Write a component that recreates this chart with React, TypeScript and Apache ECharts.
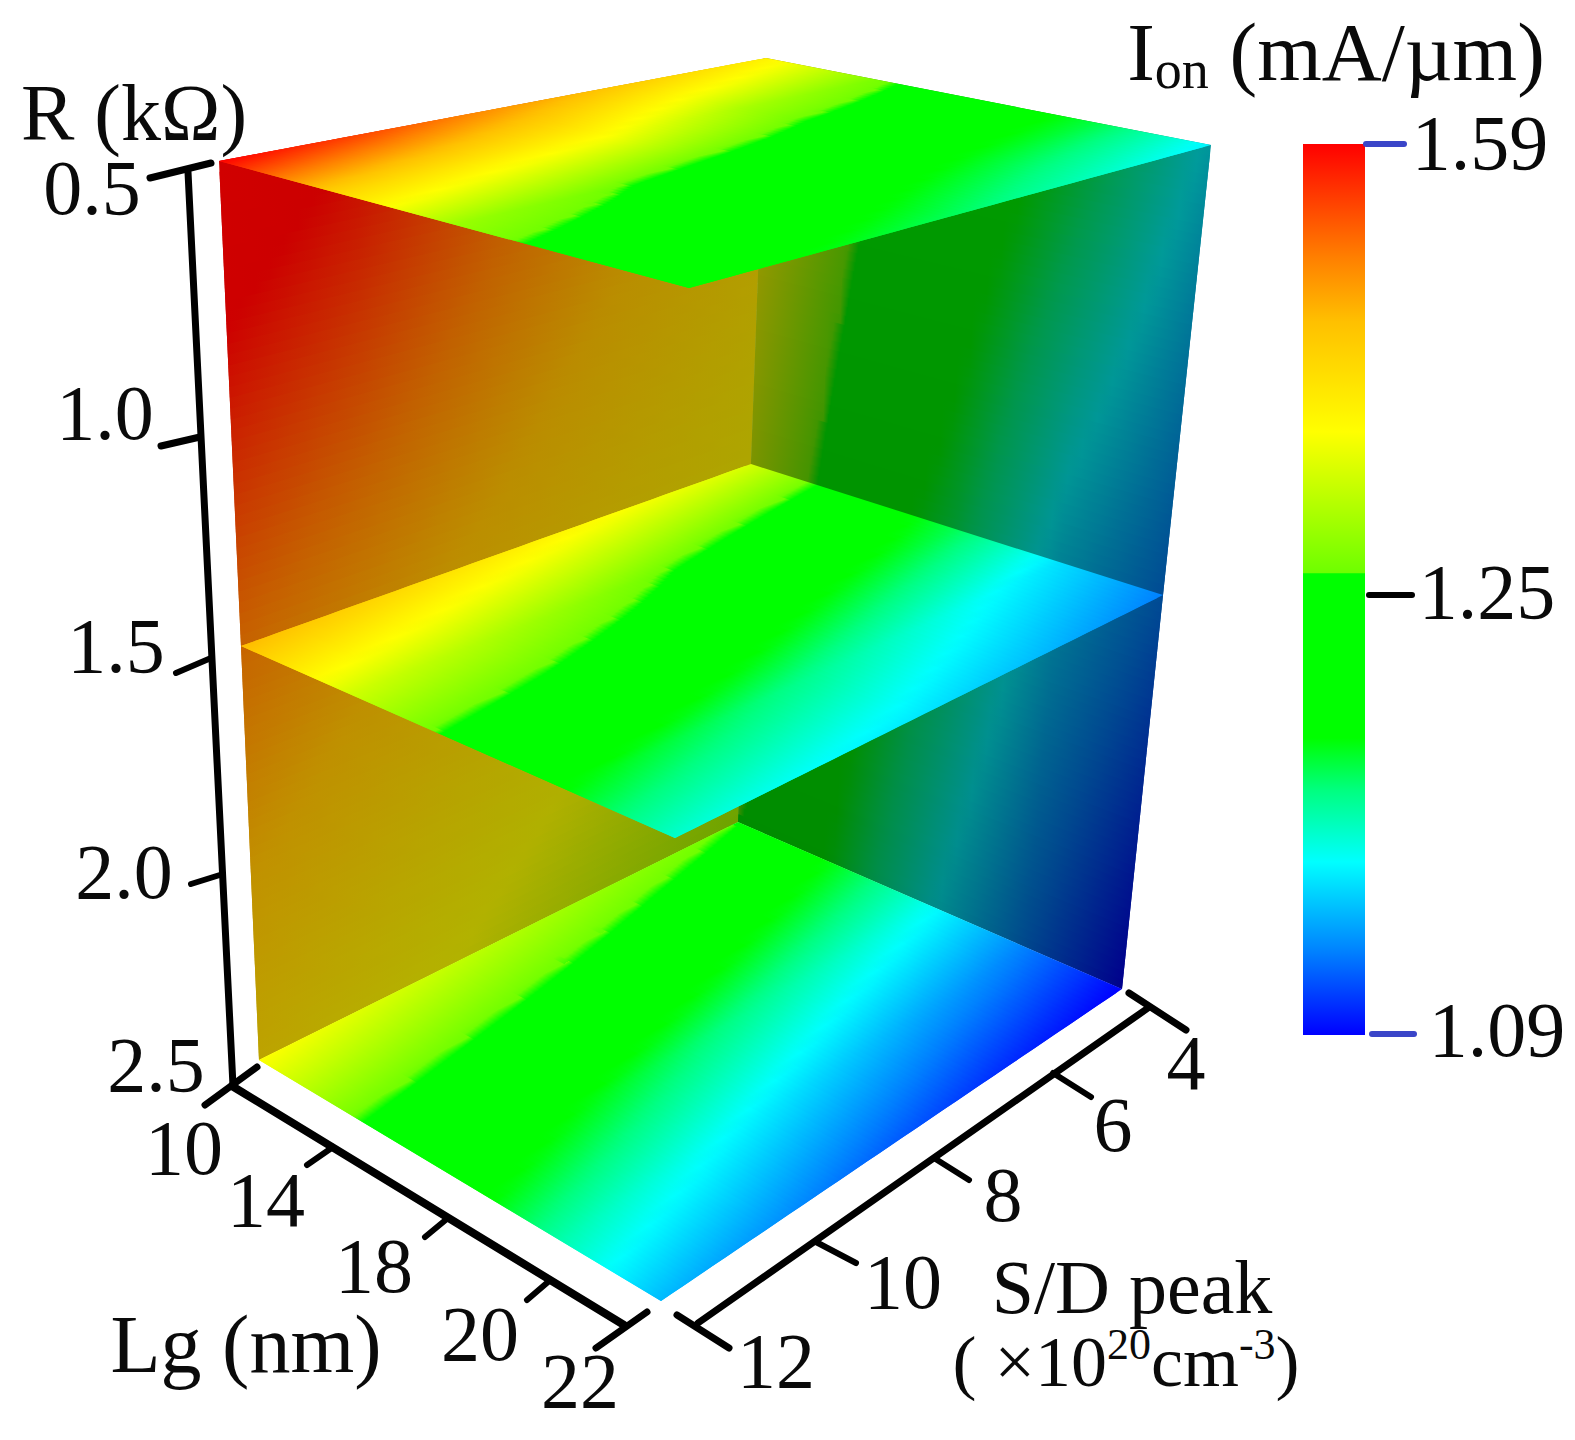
import React, { useEffect, useRef } from "react";
import * as echarts from "echarts";

// ---------- data ----------
const lgTicks = ["10", "14", "18", "20", "22"];
const sdTicks = ["4", "6", "8", "10", "12"];
const rTicks = ["0.5", "1.0", "1.5", "2.0", "2.5"];
const colorbarTicks = [1.59, 1.25, 1.09];

// Ion (mA/um) rows: Lg 10,14,18,20,22; columns: S/D peak 4,6,8,10,12
const ionAtR05 = [
  [1.39, 1.44, 1.49, 1.545, 1.59],
  [1.275, 1.31, 1.373, 1.40, 1.43],
  [1.215, 1.225, 1.245, 1.275, 1.30],
  [1.187, 1.197, 1.21, 1.225, 1.24],
  [1.15, 1.168, 1.185, 1.197, 1.205],
];
const ionAtR15 = [
  [1.343, 1.37, 1.40, 1.43, 1.46],
  [1.215, 1.25, 1.285, 1.316, 1.339],
  [1.185, 1.20, 1.217, 1.234, 1.247],
  [1.145, 1.16, 1.175, 1.187, 1.198],
  [1.12, 1.135, 1.147, 1.155, 1.163],
];
const ionAtR25 = [
  [1.265, 1.29, 1.318, 1.345, 1.373],
  [1.195, 1.212, 1.23, 1.247, 1.265],
  [1.155, 1.168, 1.182, 1.197, 1.212],
  [1.12, 1.132, 1.145, 1.158, 1.17],
  [1.09, 1.10, 1.112, 1.125, 1.135],
];
const ionLayers = [ionAtR05, ionAtR15, ionAtR25];

// colour scale: Ion value -> rgb
const scaleIon = [1.59, 1.504, 1.456, 1.373, 1.267, 1.266, 1.198, 1.179, 1.153, 1.12, 1.09];
const scaleRgb = [
  [255, 0, 0],
  [255, 128, 0],
  [255, 192, 0],
  [255, 255, 0],
  [110, 255, 0],
  [0, 255, 0],
  [0, 255, 0],
  [0, 255, 128],
  [0, 255, 255],
  [0, 128, 255],
  [0, 0, 255],
];

// ---------- layout ----------
const W = 1575;
const H = 1440;
const FONT = '"Liberation Serif", "Times New Roman", serif';
// screen corners of the three slices: B(Lg10,SD4) R(Lg22,SD4) L(Lg10,SD12) F(Lg22,SD12)
const cornerLayers = [
  { B: [766, 58], R: [1211, 145], L: [219, 161], F: [689, 288] },
  { B: [751, 464], R: [1163, 595], L: [241, 646], F: [675, 838] },
  { B: [738, 822], R: [1122, 989], L: [259, 1060], F: [661, 1301] },
];
const barBox = { x0: 1303, x1: 1365, yTop: 144, yMid: 595, yBot: 1035 };
const STRIPS = 90;
const SAMPLES = 36;
const JUMP_SOFTNESS = 0.012;

const lerp = (a: number, b: number, t: number) => a + (b - a) * t;

function ionColor(v: number): number[] {
  if (v >= scaleIon[0]) return scaleRgb[0];
  for (let i = 1; i < scaleIon.length; i++) {
    if (v >= scaleIon[i]) {
      const t = (scaleIon[i - 1] - v) / (scaleIon[i - 1] - scaleIon[i]);
      return [0, 1, 2].map((k) => lerp(scaleRgb[i - 1][k], scaleRgb[i][k], t));
    }
  }
  return scaleRgb[scaleRgb.length - 1];
}
const css = (c: number[], s = 1) => `rgb(${c.map((x) => Math.round(x * s)).join(",")})`;

function tableAt(t: number[][], lg: number, sd: number) {
  const i = Math.min(Math.floor(lg), 3);
  const j = Math.min(Math.floor(sd), 3);
  const a = lerp(t[i][j], t[i + 1][j], lg - i);
  const b = lerp(t[i][j + 1], t[i + 1][j + 1], lg - i);
  return lerp(a, b, sd - j);
}
function ionAt(lg: number, sd: number, rho: number) {
  const k = Math.min(Math.floor(rho), 1);
  return lerp(tableAt(ionLayers[k], lg, sd), tableAt(ionLayers[k + 1], lg, sd), rho - k);
}
function layerPoint(c: any, lg: number, sd: number) {
  const u = lg / 4;
  const w = sd / 4;
  return [0, 1].map(
    (k) =>
      (1 - u) * (1 - w) * c.B[k] + u * (1 - w) * c.R[k] + (1 - u) * w * c.L[k] + u * w * c.F[k]
  );
}
function project(lg: number, sd: number, rho: number) {
  const k = Math.min(Math.floor(rho), 1);
  const a = layerPoint(cornerLayers[k], lg, sd);
  const b = layerPoint(cornerLayers[k + 1], lg, sd);
  return [lerp(a[0], b[0], rho - k), lerp(a[1], b[1], rho - k)];
}

// faces: t runs along a strip, v across the strips; each returns [lg, sd, rho]
const faces = [
  {
    off: 0.045,
    shade: (t: number, v: number) => 0.82 - 0.08 * v - 0.1 * t,
    at: (t: number, v: number) => [0, 4 - 4 * t, 2 * v],
  },
  {
    off: 0,
    shade: (_t: number, v: number) => 0.61 - 0.06 * v,
    at: (t: number, v: number) => [4 * t, 0, 2 * v],
  },
  { off: 0, shade: () => 1, at: (t: number, v: number) => [4 * t, 4 * v, 2] },
  { off: 0, shade: () => 1, at: (t: number, v: number) => [4 * t, 4 * v, 1] },
  { off: 0, shade: () => 1, at: (t: number, v: number) => [4 * t, 4 * v, 0] },
];
const stripData: number[][] = [];
faces.forEach((_, f) => {
  for (let i = 0; i < STRIPS; i++) stripData.push([f, i]);
});

function stripStops(face: any, vm: number) {
  const stops: any[] = [];
  const val = (t: number) => {
    const p = face.at(t, vm);
    return ionAt(p[0], p[1], p[2]) + face.off;
  };
  const jump = (scaleIon[4] + scaleIon[5]) / 2;
  let prev = val(0);
  let last = 0;
  const push = (offset: number, color: string) => {
    const o = Math.min(1, Math.max(last, offset));
    stops.push({ offset: o, color });
    last = o;
  };
  push(0, css(ionColor(prev), face.shade(0, vm)));
  for (let s = 1; s <= SAMPLES; s++) {
    const t = s / SAMPLES;
    const cur = val(t);
    if ((prev - jump) * (cur - jump) < 0) {
      const tc = t - 1 / SAMPLES + (1 / SAMPLES) * ((prev - jump) / (prev - cur));
      const before = prev > jump ? scaleIon[4] : scaleIon[5];
      const after = prev > jump ? scaleIon[5] : scaleIon[4];
      const sh = face.shade(tc, vm);
      push(tc - JUMP_SOFTNESS, css(ionColor(before), sh));
      push(tc + JUMP_SOFTNESS, css(ionColor(after), sh));
    }
    if (t >= last) push(t, css(ionColor(cur), face.shade(t, vm)));
    prev = cur;
  }
  return stops;
}

function renderStrip(_: any, api: any) {
  const face = faces[api.value(0)];
  const i = api.value(1);
  const v0 = i / STRIPS;
  const v1 = Math.min(1, (i + 2) / STRIPS);
  const vm = (i + 0.5) / STRIPS;
  const pt = (t: number, v: number) => {
    const p = face.at(t, v);
    return api.coord(project(p[0], p[1], p[2]));
  };
  const a = pt(0, vm);
  const b = pt(1, vm);
  const c0 = pt(0.5, v0);
  const c1 = pt(0.5, Math.min(1, (i + 1) / STRIPS));
  let nx = -(c1[1] - c0[1]);
  let ny = c1[0] - c0[0];
  const len = Math.hypot(nx, ny) || 1;
  nx /= len;
  ny /= len;
  const proj = (b[0] - a[0]) * nx + (b[1] - a[1]) * ny;
  return {
    type: "polygon",
    shape: { points: [pt(0, v0), pt(1, v0), pt(1, v1), pt(0, v1)] },
    style: {
      fill: {
        type: "linear",
        global: true,
        x: a[0],
        y: a[1],
        x2: a[0] + proj * nx,
        y2: a[1] + proj * ny,
        colorStops: stripStops(face, vm),
      },
    },
  };
}

const ionToBarY = (v: number) =>
  v >= colorbarTicks[1]
    ? lerp(barBox.yTop, barBox.yMid, (colorbarTicks[0] - v) / (colorbarTicks[0] - colorbarTicks[1]))
    : lerp(barBox.yMid, barBox.yBot, (colorbarTicks[1] - v) / (colorbarTicks[1] - colorbarTicks[2]));

function renderBar(_: any, api: any) {
  const tl = api.coord([barBox.x0, barBox.yTop]);
  const br = api.coord([barBox.x1, barBox.yBot]);
  const span = barBox.yBot - barBox.yTop;
  return {
    type: "rect",
    shape: { x: tl[0], y: tl[1], width: br[0] - tl[0], height: br[1] - tl[1] },
    style: {
      fill: {
        type: "linear",
        x: 0,
        y: 0,
        x2: 0,
        y2: 1,
        colorStops: scaleIon.map((v, i) => ({
          offset: (ionToBarY(v) - barBox.yTop) / span,
          color: css(scaleRgb[i]),
        })),
      },
    },
  };
}

// axis strokes: [x1, y1, x2, y2, width, colour index]
const strokeColors = ["#000000", "#3a45c8"];
const strokes = [
  [188, 172, 233, 1086, 7, 0],
  [150, 178, 211, 163, 7, 0],
  [200, 437, 161, 446, 7, 0],
  [211, 658, 176, 673, 6, 0],
  [223, 874, 191, 884, 6, 0],
  [257, 1067, 205, 1105, 7, 0],
  [232, 1086, 624, 1325, 8, 0],
  [333, 1147, 307, 1165, 6, 0],
  [448, 1218, 425, 1237, 6, 0],
  [548, 1282, 527, 1300, 6, 0],
  [647, 1312, 596, 1348, 7, 0],
  [698, 1323, 1148, 1008, 7, 0],
  [1129, 993, 1186, 1030, 7, 0],
  [1053, 1073, 1091, 1097, 6, 0],
  [934, 1158, 969, 1180, 6, 0],
  [816, 1242, 856, 1263, 6, 0],
  [677, 1315, 729, 1348, 7, 0],
  [1366, 144, 1404, 144, 6, 1],
  [1369, 595, 1412, 595, 6, 0],
  [1372, 1034, 1414, 1034, 6, 1],
];
function renderStroke(_: any, api: any) {
  const a = api.coord([api.value(0), api.value(1)]);
  const b = api.coord([api.value(2), api.value(3)]);
  return {
    type: "line",
    shape: { x1: a[0], y1: a[1], x2: b[0], y2: b[1] },
    style: { stroke: strokeColors[api.value(5)], lineWidth: api.value(4), lineCap: "round" },
  };
}

const label = (text: string, x: number, y: number, size = 78, rich?: any) => ({
  type: "text",
  x,
  y,
  z: 100,
  style: {
    text,
    fontFamily: FONT,
    fontSize: size,
    fill: "#0a0a0a",
    align: "center",
    verticalAlign: "middle",
    ...(rich ? { rich } : {}),
  },
});

const lgLabelPos = [[184, 1147], [266, 1199], [374, 1265], [480, 1333], [580, 1380]];
const sdLabelPos = [[1186, 1062], [1113, 1124], [1003, 1194], [903, 1281], [776, 1360]];
const rLabelPos = [[92, 187], [105, 412], [116, 645], [124, 871], [156, 1064]];
const barLabelPos = [[1480, 142], [1487, 591], [1497, 1029]];

const richBase = { fontFamily: FONT, fill: "#0a0a0a" };
const richTitle = {
  m: { ...richBase, fontSize: 83, lineHeight: 90 },
  d: { ...richBase, fontSize: 54, lineHeight: 90, verticalAlign: "bottom" },
};
const richUnit = {
  m: { ...richBase, fontSize: 72, lineHeight: 80 },
  u: { ...richBase, fontSize: 44, lineHeight: 80, verticalAlign: "top" },
};

export default function App() {
  const ref = useRef<HTMLDivElement>(null);
  useEffect(() => {
    const chart = echarts.init(ref.current!, undefined, { renderer: "svg" });
    chart.setOption({
      animation: false,
      backgroundColor: "#ffffff",
      grid: { left: 0, top: 0, right: 0, bottom: 0 },
      xAxis: { type: "value", min: 0, max: W, show: false },
      yAxis: { type: "value", min: 0, max: H, inverse: true, show: false },
      series: [
        { type: "custom", name: "Ion", coordinateSystem: "cartesian2d", data: stripData, renderItem: renderStrip, silent: true },
        { type: "custom", name: "Colour bar", coordinateSystem: "cartesian2d", data: [[0, 0]], renderItem: renderBar, silent: true },
        { type: "custom", name: "Axes", coordinateSystem: "cartesian2d", data: strokes, renderItem: renderStroke, silent: true },
      ],
      graphic: [
        ...lgTicks.map((t, i) => label(t, lgLabelPos[i][0], lgLabelPos[i][1])),
        ...sdTicks.map((t, i) => label(t, sdLabelPos[i][0], sdLabelPos[i][1])),
        ...rTicks.map((t, i) => label(t, rLabelPos[i][0], rLabelPos[i][1])),
        ...colorbarTicks.map((t, i) => label(t.toFixed(2), barLabelPos[i][0], barLabelPos[i][1])),
        label("R (kΩ)", 134, 113, 80),
        label("Lg (nm)", 246, 1344, 82),
        label("S/D peak", 1132, 1287, 76),
        label("{m|I}{d|on}{m| (mA/µm)}", 1336, 52, 83, richTitle),
        label("{m|( ×10}{u|20}{m|cm}{u|-3}{m|)}", 1126, 1362, 72, richUnit),
      ],
    });
    return () => chart.dispose();
  }, []);
  return <div ref={ref} style={{ position: "absolute", left: 0, top: 0, width: W, height: H }} />;
}
